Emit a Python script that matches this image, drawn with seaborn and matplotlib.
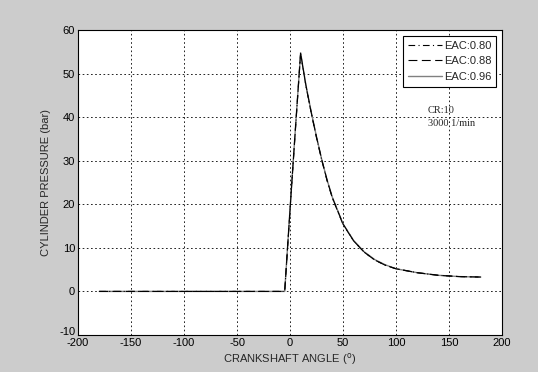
import numpy as np
import pandas as pd
import matplotlib
matplotlib.use("Agg")
import matplotlib.pyplot as plt
import matplotlib.transforms as mtransforms
import seaborn as sns

# Data
angle = [-180, -5, 0, 5, 10, 12, 15, 20, 25, 30, 35, 40, 50, 60, 70, 80, 90, 100, 120, 140, 160, 180]
p_080 = [0, 0, 18.6, 36.8, 54.6, 51.6, 47.2, 41.0, 35.3, 30.1, 25.4, 21.4, 15.4, 11.6, 9.0, 7.2, 6.0, 5.2, 4.3, 3.7, 3.4, 3.3]
p_088 = [0, 0, 18.7, 36.9, 54.7, 51.7, 47.3, 41.1, 35.4, 30.2, 25.5, 21.5, 15.5, 11.6, 9.0, 7.2, 6.0, 5.2, 4.3, 3.7, 3.4, 3.3]
p_096 = [0, 0, 18.8, 37.0, 54.8, 51.8, 47.4, 41.2, 35.5, 30.2, 25.6, 21.6, 15.5, 11.7, 9.1, 7.3, 6.1, 5.2, 4.3, 3.7, 3.4, 3.3]
labels = ["EAC:0.80", "EAC:0.88", "EAC:0.96"]
x_ticks = [-200, -150, -100, -50, 0, 50, 100, 150, 200]
y_ticks = [-10, 0, 10, 20, 30, 40, 50, 60]

df = pd.DataFrame({
    "angle": angle * 3,
    "pressure": p_080 + p_088 + p_096,
    "series": [labels[0]] * len(angle) + [labels[1]] * len(angle) + [labels[2]] * len(angle),
})

sns.set_style("white")
plt.rcParams["font.family"] = ["Liberation Sans", "DejaVu Sans"]
plt.rcParams["axes.unicode_minus"] = False

fig = plt.figure(figsize=(5.38, 3.72), dpi=100, facecolor="#cccccc")
ax = fig.add_axes([78 / 538, 37 / 372, 424 / 538, 305 / 372])
ax.set_facecolor("white")

styles = {
    labels[0]: dict(color="black", linestyle=(0, (6, 3, 1, 3)), linewidth=0.8, zorder=4),
    labels[1]: dict(color="black", linestyle=(0, (8, 4)), linewidth=0.8, zorder=3),
    labels[2]: dict(color="#808080", linestyle="-", linewidth=1.0, zorder=2),
}
for lab in labels:
    sub = df[df["series"] == lab]
    sns.lineplot(data=sub, x="angle", y="pressure", ax=ax, label=lab,
                 sort=False, estimator=None, **styles[lab])

ax.set_xlim(-200, 200)
ax.set_ylim(-10, 60)
ax.set_xticks(x_ticks)
ax.set_yticks(y_ticks)
ax.tick_params(direction="in", length=3, width=0.6, labelsize=8, colors="black", pad=2)
ax.grid(True, color="black", linestyle=(0, (2, 3)), linewidth=0.6)
ax.set_axisbelow(True)
for s in ax.spines.values():
    s.set_color("black")
    s.set_linewidth(0.8)
    s.set_visible(True)

# lift the bottom y label slightly, as in the reference
lbl = ax.get_yticklabels()[0]
lbl.set_transform(lbl.get_transform() + mtransforms.ScaledTranslation(0, 3 / 72, fig.dpi_scale_trans))

ax.set_xlabel("CRANKSHAFT ANGLE ($^{\\mathrm{o}}$)", fontsize=8, labelpad=2)
ax.set_ylabel("CYLINDER PRESSURE (bar)", fontsize=8, labelpad=6)

ax.text(130, 41.6, "CR:10", fontsize=7.5, family=["Liberation Serif"], va="center", ha="left")
ax.text(130, 38.6, "3000 1/min", fontsize=7.5, family=["Liberation Serif"], va="center", ha="left")

leg = ax.legend(loc="upper right", fontsize=8, frameon=True, fancybox=False,
                edgecolor="black", framealpha=1, borderaxespad=0.5,
                handlelength=3.0, handletextpad=0.2, labelspacing=0.5, borderpad=0.45)
leg.get_frame().set_linewidth(0.8)

fig.savefig("out.png", dpi=100, facecolor=fig.get_facecolor())
